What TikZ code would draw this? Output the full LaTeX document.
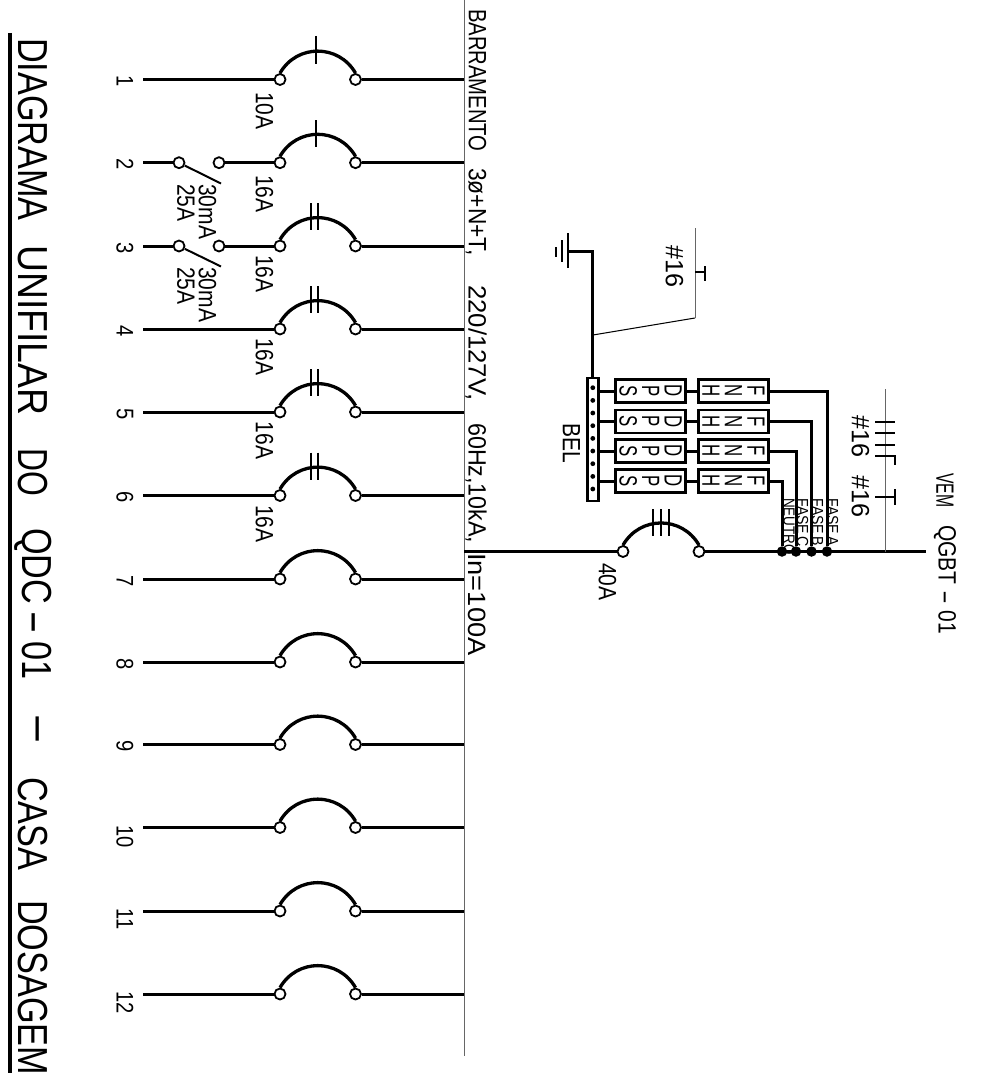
\documentclass[tikz,border=0pt]{standalone}
\usepackage{fontspec}
\setmainfont{Liberation Sans}
\usepackage{tikz}
\usetikzlibrary{arrows,positioning}
\newcommand{\longhyph}[1]{\scalebox{#1}[1]{-}}
\tikzset{
  wire/.style={line width=3pt},
  feeder/.style={line width=3.2pt},
  breaker/.style={line width=3.3pt,bend left=60,looseness=1.15},
  tickm/.style={line width=1.2pt},
  leader/.style={line width=1pt,color=black!60},
  term/.style={circle,draw,line width=1.8pt,fill=white,minimum size=11pt,inner sep=0pt},
  junct/.style={circle,fill=black,minimum size=10.5pt,inner sep=0pt},
  belpt/.style={circle,fill=black,minimum size=4.8pt,inner sep=0pt},
  txt/.style={transform shape,rotate=-90,xscale=.84,inner sep=0pt,anchor=west,font=\fontsize{25}{25}\selectfont},
  numtxt/.style={txt,font=\fontsize{24}{24}\selectfont},
  smalltxt/.style={txt,font=\fontsize{16}{16}\selectfont},
  titletxt/.style={txt,xscale=.97,font=\fontsize{42}{42}\selectfont},
  boxtxt/.style={txt,anchor=center,align=center,xscale=.8,font=\fontsize{25}{22.5}\selectfont},
  prot/.style={draw,line width=2.2pt,minimum width=70pt,minimum height=23pt,inner sep=0pt},
}
\begin{document}
\begin{tikzpicture}[x=1pt,y=-1pt]
\clip (0,0) rectangle (997,1073);
% title
\draw[line width=4pt] (10,33) -- (10,1073);
\node[titletxt] (ttl1) at (33,38) {DIAGRAMA};
\node[titletxt,xscale=1.09] (ttl2) at (33,245) {UNIFILAR};
\node[titletxt,xscale=.93] (ttl3) at (33,448) {DO};
\node[titletxt] (ttl4) at (33,528) {QDC\hspace{8pt}\longhyph{2.1}\hspace{8pt}01};
\node[titletxt] (ttl5) at (33,712) {\longhyph{2.9}};
\node[titletxt] (ttl6) at (33,777) {CASA};
\node[titletxt] (ttl7) at (33,900) {DOSAGEM};
% bus
\coordinate (bustop) at (464,0);
\coordinate (busbot) at (464,1056);
\draw[leader] (bustop) -- (busbot);
\node[txt,xscale=.964] (bus1) at (477.5,9) {BARRAMENTO};
\node[txt,xscale=1.083] (bus2) at (476,168) {3ø+N+T,};
\node[txt,xscale=1.226] (bus3) at (476,285) {220/127V,};
\node[txt,xscale=1.107] (bus4) at (476,423) {60Hz,10kA,};
\node[txt,xscale=1.298] (bus5) at (477.5,553) {In=100A};
% circuit 1
\coordinate (s1) at (143,79.5); \coordinate (e1) at (464,79.5);
\node[term] (a1) at (280,79.5) {}; \node[term] (b1) at (355.5,79.5) {};
\node[numtxt] (n1) at (125,75.5) {1}; \node[txt] (i1) at (264.5,92) {10A};
\draw[wire] (s1) -- (a1); \draw[wire] (b1) -- (e1);
\draw[breaker] (a1.north) to (b1.north);
\draw[tickm] (316,36) -- (316,64);
% circuit 2
\coordinate (s2) at (143,162.7); \coordinate (e2) at (464,162.7); \coordinate (sl2) at (221,183.5);
\node[term] (d2) at (179,162.7) {}; \node[term] (f2) at (219,162.7) {};
\node[term] (a2) at (280,162.7) {}; \node[term] (b2) at (355.5,162.7) {};
\node[numtxt] (n2) at (125,158.7) {2}; \node[txt] (i2) at (264.5,175) {16A};
\node[txt] (m2) at (207.5,184) {30mA}; \node[txt] (c2) at (186,184) {25A};
\draw[wire] (s2) -- (d2); \draw[wire] (f2) -- (a2); \draw[wire] (b2) -- (e2);
\draw[line width=2pt] (d2) -- (sl2);
\draw[breaker] (a2.north) to (b2.north);
\draw[tickm] (316,120) -- (316,147);
% circuit 3
\coordinate (s3) at (143,246); \coordinate (e3) at (464,246); \coordinate (sl3) at (221,266.5);
\node[term] (d3) at (179,246) {}; \node[term] (f3) at (219,246) {};
\node[term] (a3) at (280,246) {}; \node[term] (b3) at (355.5,246) {};
\node[numtxt] (n3) at (125,242) {3}; \node[txt] (i3) at (264.5,255) {16A};
\node[txt] (m3) at (207.5,267) {30mA}; \node[txt] (c3) at (186,267) {25A};
\draw[wire] (s3) -- (d3); \draw[wire] (f3) -- (a3); \draw[wire] (b3) -- (e3);
\draw[line width=2pt] (d3) -- (sl3);
\draw[breaker] (a3.north) to (b3.north);
\draw[tickm] (311,203) -- (311,230);
\draw[tickm] (318,203) -- (318,230);
% circuit 4
\coordinate (s4) at (143,329); \coordinate (e4) at (464,329);
\node[term] (a4) at (280,329) {}; \node[term] (b4) at (355.5,329) {};
\node[numtxt] (n4) at (125,325) {4}; \node[txt] (i4) at (264.5,338) {16A};
\draw[wire] (s4) -- (a4); \draw[wire] (b4) -- (e4);
\draw[breaker] (a4.north) to (b4.north);
\draw[tickm] (311,286) -- (311,313);
\draw[tickm] (318,286) -- (318,313);
% circuit 5
\coordinate (s5) at (143,412); \coordinate (e5) at (464,412);
\node[term] (a5) at (280,412) {}; \node[term] (b5) at (355.5,412) {};
\node[numtxt] (n5) at (125,408) {5}; \node[txt] (i5) at (264.5,421.5) {16A};
\draw[wire] (s5) -- (a5); \draw[wire] (b5) -- (e5);
\draw[breaker] (a5.north) to (b5.north);
\draw[tickm] (311,369) -- (311,396);
\draw[tickm] (318,369) -- (318,396);
% circuit 6
\coordinate (s6) at (143,495.5); \coordinate (e6) at (464,495.5);
\node[term] (a6) at (280,495.5) {}; \node[term] (b6) at (355.5,495.5) {};
\node[numtxt] (n6) at (125,491.5) {6}; \node[txt] (i6) at (264.5,505) {16A};
\draw[wire] (s6) -- (a6); \draw[wire] (b6) -- (e6);
\draw[breaker] (a6.north) to (b6.north);
\draw[tickm] (311,452.5) -- (311,479.5);
\draw[tickm] (318,452.5) -- (318,479.5);
% circuit 7
\coordinate (s7) at (143,579); \coordinate (e7) at (464,579);
\node[term] (a7) at (280,579) {}; \node[term] (b7) at (355.5,579) {};
\node[numtxt] (n7) at (125,575) {7};
\draw[wire] (s7) -- (a7); \draw[wire] (b7) -- (e7);
\draw[breaker] (a7.north) to (b7.north);
% circuit 8
\coordinate (s8) at (143,662); \coordinate (e8) at (464,662);
\node[term] (a8) at (280,662) {}; \node[term] (b8) at (355.5,662) {};
\node[numtxt] (n8) at (125,658) {8};
\draw[wire] (s8) -- (a8); \draw[wire] (b8) -- (e8);
\draw[breaker] (a8.north) to (b8.north);
% circuit 9
\coordinate (s9) at (143,744.5); \coordinate (e9) at (464,744.5);
\node[term] (a9) at (280,744.5) {}; \node[term] (b9) at (355.5,744.5) {};
\node[numtxt] (n9) at (125,740.5) {9};
\draw[wire] (s9) -- (a9); \draw[wire] (b9) -- (e9);
\draw[breaker] (a9.north) to (b9.north);
% circuit 10
\coordinate (s10) at (143,827.5); \coordinate (e10) at (464,827.5);
\node[term] (a10) at (280,827.5) {}; \node[term] (b10) at (355.5,827.5) {};
\node[numtxt] (n10) at (125,825) {10};
\draw[wire] (s10) -- (a10); \draw[wire] (b10) -- (e10);
\draw[breaker] (a10.north) to (b10.north);
% circuit 11
\coordinate (s11) at (143,911); \coordinate (e11) at (464,911);
\node[term] (a11) at (280,911) {}; \node[term] (b11) at (355.5,911) {};
\node[numtxt] (n11) at (125,908.5) {11};
\draw[wire] (s11) -- (a11); \draw[wire] (b11) -- (e11);
\draw[breaker] (a11.north) to (b11.north);
% circuit 12
\coordinate (s12) at (143,994); \coordinate (e12) at (464,994);
\node[term] (a12) at (280,994) {}; \node[term] (b12) at (355.5,994) {};
\node[numtxt] (n12) at (125,991.5) {12};
\draw[wire] (s12) -- (a12); \draw[wire] (b12) -- (e12);
\draw[breaker] (a12.north) to (b12.north);
% main breaker
\coordinate (busin) at (464,551.5);
\coordinate (vem) at (926,551.5);
\node[term] (ma) at (623,551.5) {};
\node[term] (mb) at (699,551.5) {};
\draw[feeder] (busin) -- (ma);
\draw[feeder] (mb) -- (vem);
\draw[breaker] (ma.north) to (mb.north);
\draw[tickm] (653,509) -- (653,536);
\draw[tickm] (661,509) -- (661,536);
\draw[tickm] (669,509) -- (669,536);
\node[txt] (mi) at (607.5,563) {40A};
\node[txt,xscale=.75] (vem1) at (945,473) {VEM};
\node[txt] (vem2) at (945,525) {QGBT\hspace{7pt}\longhyph{2}\hspace{7pt}01};
% BEL bar
\draw[line width=2.2pt,fill=white] (587.5,378) rectangle (598.5,501);
\coordinate (belr1) at (599,391); \coordinate (belr2) at (599,421.5);
\coordinate (belr3) at (599,451); \coordinate (belr4) at (599,481);
\node[belpt] (p1) at (592.8,387.7) {};
\node[belpt] (p2) at (592.8,400.4) {};
\node[belpt] (p3) at (592.8,413) {};
\node[belpt] (p4) at (592.8,425.7) {};
\node[belpt] (p5) at (592.8,438.4) {};
\node[belpt] (p6) at (592.8,451) {};
\node[belpt] (p7) at (592.8,463.7) {};
\node[belpt] (p8) at (592.8,476.4) {};
\node[belpt] (p9) at (592.8,489) {};
\node[txt] (bel) at (571.5,423) {BEL};
% protection rows
\node[prot] (dps1) at (650.5,391) {}; \node[prot] (fnh1) at (733.5,391) {};
\node[prot] (dps2) at (650.5,421.5) {}; \node[prot] (fnh2) at (733.5,421.5) {};
\node[prot] (dps3) at (650.5,451) {}; \node[prot] (fnh3) at (733.5,451) {};
\node[prot] (dps4) at (650.5,481) {}; \node[prot] (fnh4) at (733.5,481) {};
\node[boxtxt] at (dps1) {D\\P\\S}; \node[boxtxt] at (fnh1) {F\\N\\H};
\node[boxtxt] at (dps2) {D\\P\\S}; \node[boxtxt] at (fnh2) {F\\N\\H};
\node[boxtxt] at (dps3) {D\\P\\S}; \node[boxtxt] at (fnh3) {F\\N\\H};
\node[boxtxt] at (dps4) {D\\P\\S}; \node[boxtxt] at (fnh4) {F\\N\\H};
\draw[wire] (belr1) -- (dps1); \draw[wire] (dps1) -- (fnh1);
\draw[wire] (belr2) -- (dps2); \draw[wire] (dps2) -- (fnh2);
\draw[wire] (belr3) -- (dps3); \draw[wire] (dps3) -- (fnh3);
\draw[wire] (belr4) -- (dps4); \draw[wire] (dps4) -- (fnh4);
% phases
\node[junct] (ja) at (827,551.5) {};
\node[junct] (jb) at (811.5,551.5) {};
\node[junct] (jc) at (796,551.5) {};
\node[junct] (jn) at (782,551.5) {};
\draw[wire] (fnh1) -| (ja);
\draw[wire] (fnh2) -| (jb);
\draw[wire] (fnh3) -| (jc);
\draw[wire] (fnh4) -| (jn);
\node[smalltxt,xscale=1.05] (fa) at (832.5,498) {FASE\hspace{3pt}A};
\node[smalltxt,xscale=1.05] (fb) at (817.5,498) {FASE\hspace{3pt}B};
\node[smalltxt,xscale=1.05] (fc) at (802.5,498) {FASE\hspace{3pt}C};
\node[smalltxt] (fn) at (789,498) {NEUTRO};
% ground
\coordinate (beltop) at (592.8,378);
\coordinate (gnd) at (568,251);
\draw[wire] (beltop) |- (gnd);
\draw[line width=2.2pt] (568,233) -- (568,268);
\draw[line width=2.2pt] (561.7,240) -- (561.7,262);
\draw[line width=2.2pt] (555.7,247) -- (555.7,257);
% earth conductor mark
\coordinate (tapg) at (593,335);
\coordinate (ktop) at (695,318);
\coordinate (kend) at (695,228);
\draw[line width=1pt] (tapg) -- (ktop);
\draw[leader] (ktop) -- (kend);
\draw[tickm] (695,272) -- (705,272);
\draw[line width=1.8pt] (705,266) -- (705,281);
\node[txt,xscale=1.2] (w1) at (674.5,245) {\#16};
% phase conductor mark
\coordinate (hbot) at (885,551.5);
\coordinate (htop) at (885,389);
\draw[leader] (hbot) -- (htop);
\draw[tickm] (875,422) -- (895,422);
\draw[tickm] (875,433) -- (895,433);
\draw[tickm] (875,445) -- (895,445);
\draw[tickm] (875,456) -- (895,456) -- (895,465);
\draw[tickm] (875,497) -- (895,497);
\draw[line width=1.8pt] (895,489) -- (895,505);
\node[txt,xscale=1.2] (w2) at (860.5,415) {\#16};
\node[txt,xscale=1.2] (w3) at (860.5,475) {\#16};
\end{tikzpicture}
\end{document}
